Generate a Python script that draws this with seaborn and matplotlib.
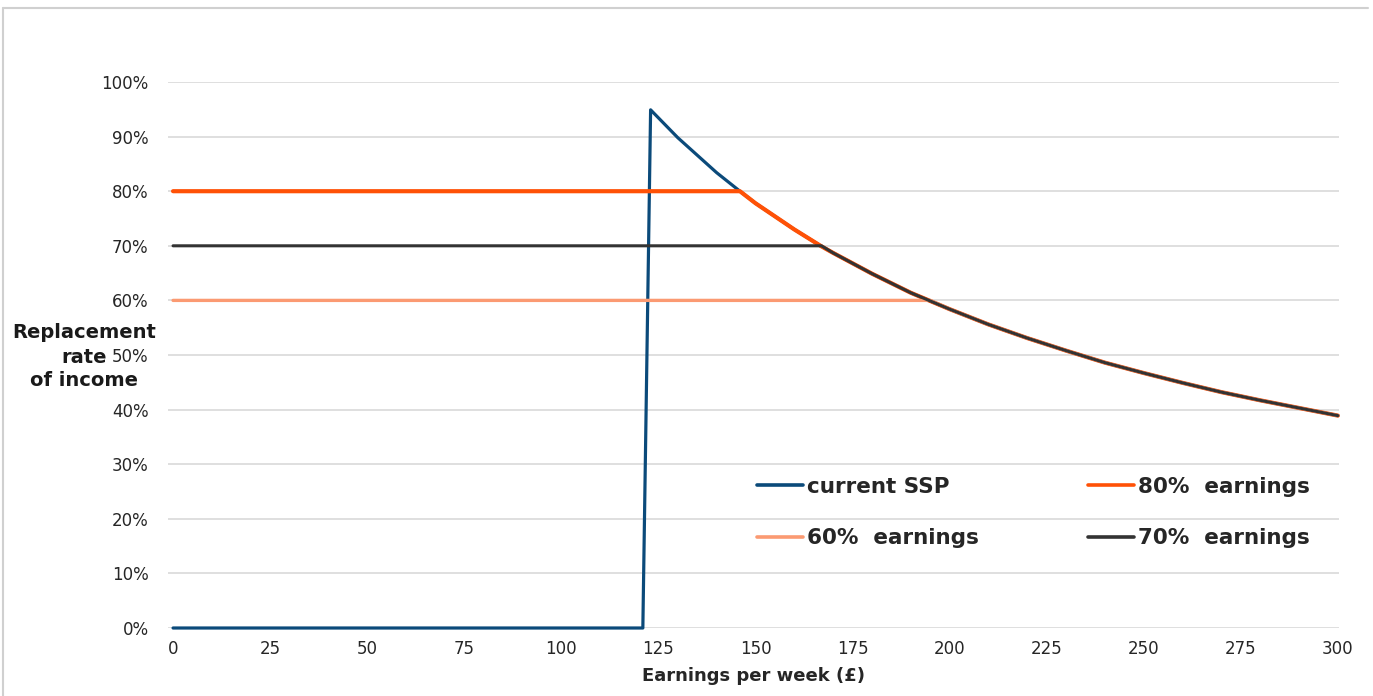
import matplotlib
matplotlib.use("Agg")
import matplotlib.pyplot as plt
import seaborn as sns
from matplotlib.lines import Line2D
from matplotlib.ticker import PercentFormatter

# earnings per week (£) and replacement rate (%)
ssp_earn = [0, 121, 123, 130, 140, 146, 150, 160, 167, 170, 180, 190, 195, 200,
            210, 220, 230, 240, 250, 260, 270, 280, 290, 300]
ssp_rate = [0, 0, 94.9, 89.8, 83.4, 80.0, 77.8, 73.0, 69.9, 68.7, 64.9, 61.4, 59.9, 58.4,
            55.6, 53.1, 50.8, 48.6, 46.7, 44.9, 43.2, 41.7, 40.3, 38.9]

earn80 = [0, 146, 150, 160, 167, 170, 180, 190, 195, 200,
          210, 220, 230, 240, 250, 260, 270, 280, 290, 300]
rate80 = [80, 80, 77.8, 73.0, 69.9, 68.7, 64.9, 61.4, 59.9, 58.4,
          55.6, 53.1, 50.8, 48.6, 46.7, 44.9, 43.2, 41.7, 40.3, 38.9]

earn60 = [0, 195, 200, 210, 220, 230, 240, 250, 260, 270, 280, 290, 300]
rate60 = [60, 60, 58.4, 55.6, 53.1, 50.8, 48.6, 46.7, 44.9, 43.2, 41.7, 40.3, 38.9]

earn70 = [0, 167, 170, 180, 190, 195, 200, 210, 220, 230, 240, 250, 260, 270, 280, 290, 300]
rate70 = [70, 70, 68.7, 64.9, 61.4, 59.9, 58.4, 55.6, 53.1, 50.8, 48.6, 46.7, 44.9, 43.2, 41.7, 40.3, 38.9]

x_ticks = [0, 25, 50, 75, 100, 125, 150, 175, 200, 225, 250, 275, 300]
y_ticks = [0, 10, 20, 30, 40, 50, 60, 70, 80, 90, 100]

c_ssp = "#0b4a7a"
c_80 = "#ff5106"
c_60 = "#fb9a72"
c_70 = "#333333"

sns.set_style("white")
plt.rcParams["font.family"] = ["DejaVu Sans"]

fig = plt.figure(figsize=(13.73, 6.96), dpi=100)
ax = fig.add_axes([168 / 1373, 68 / 696, (1339 - 168) / 1373, (628 - 82) / 696])

sns.lineplot(x=ssp_earn, y=ssp_rate, color=c_ssp, linewidth=2.3, ax=ax, clip_on=False)
sns.lineplot(x=earn80, y=rate80, color=c_80, linewidth=3.0, ax=ax, clip_on=False)
sns.lineplot(x=earn60, y=rate60, color=c_60, linewidth=2.4, ax=ax, clip_on=False)
sns.lineplot(x=earn70, y=rate70, color=c_70, linewidth=2.2, ax=ax, clip_on=False)

ax.set_xlim(-1.3, 300.3)
ax.set_ylim(0, 100)
ax.set_xticks(x_ticks)
ax.set_yticks(y_ticks)
ax.yaxis.set_major_formatter(PercentFormatter(decimals=0))
ax.tick_params(axis="both", length=0, labelsize=12, colors="#262626")
ax.tick_params(axis="y", pad=14)
ax.tick_params(axis="x", pad=9)
ax.grid(axis="y", color="#d9d9d9", linewidth=1.2)
ax.set_axisbelow(True)
for s in ax.spines.values():
    s.set_visible(False)

ax.set_xlabel("Earnings per week (£)", fontsize=13, fontweight="bold", labelpad=6)
ax.set_ylabel("")
# y title, one line at a time, centred on x = 84 px
for txt, ypx in [("Replacement", 333), ("rate", 357), ("of income", 380)]:
    fig.text(84 / 1373, 1 - ypx / 696, txt, ha="center", va="center",
             fontsize=14, fontweight="bold", color="#1a1a1a")

handles = [Line2D([], [], color=c_ssp, linewidth=2.6),
           Line2D([], [], color=c_60, linewidth=2.6),
           Line2D([], [], color=c_80, linewidth=2.6),
           Line2D([], [], color=c_70, linewidth=2.6)]
labels = ["current SSP", "60%  earnings", "80%  earnings", "70%  earnings"]
fig.legend(handles, labels, ncol=2, frameon=False, loc="upper left",
           bbox_to_anchor=(757 / 1373, 1 - 477 / 696), borderpad=0, borderaxespad=0,
           handlelength=2.15, handletextpad=0.15, columnspacing=5.1, labelspacing=1.45,
           prop={"weight": "bold", "size": 15.5})

# outer frame (top and left edges only)
fig.add_artist(Line2D([3 / 1373, 1368 / 1373], [1 - 8 / 696, 1 - 8 / 696], color="#d0d0d0", linewidth=1.5))
fig.add_artist(Line2D([3 / 1373, 3 / 1373], [0, 1 - 8 / 696], color="#d0d0d0", linewidth=1.5))

fig.savefig("out.png", dpi=100, facecolor="white")
